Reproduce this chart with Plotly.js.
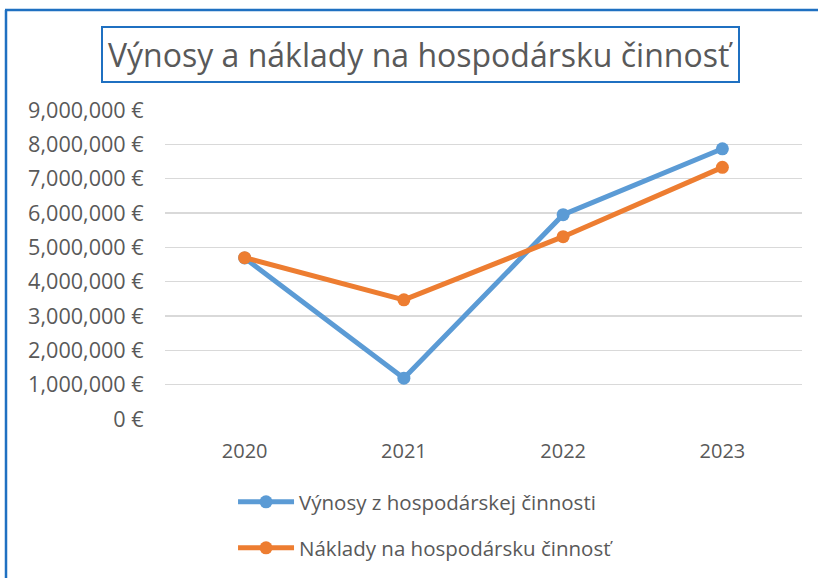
<!DOCTYPE html>
<html>
<head>
<meta charset="utf-8">
<script src="https://cdn.plot.ly/plotly-3.0.1.min.js"></script>
<style>html,body{margin:0;padding:0;background:#fff;}#chart{width:818px;height:578px;}</style>
</head>
<body>
<div id="chart"></div>
<script>
const years = ["2020", "2021", "2022", "2023"];
const vynosy = [4690000, 1190000, 5950000, 7870000];
const naklady = [4700000, 3470000, 5310000, 7330000];
const seriesNames = ["Výnosy z hospodárskej činnosti", "Náklady na hospodársku činnosť"];
const titleText = "Výnosy a náklady na hospodársku činnosť";

const FONT = "Open Sans, Noto Sans, sans-serif";
const GRAY = "#595959";
const BLUE = "#5B9BD5";
const ORANGE = "#ED7D31";
const FRAME = "#1F70C1";

const traces = [
  {x: years, y: vynosy, name: seriesNames[0], type: "scatter", mode: "lines+markers",
   line: {color: BLUE, width: 5}, marker: {color: BLUE, size: 13}, legend: "legend"},
  {x: years, y: naklady, name: seriesNames[1], type: "scatter", mode: "lines+markers",
   line: {color: ORANGE, width: 5}, marker: {color: ORANGE, size: 13}, legend: "legend2"}
];

const legendFont = {family: FONT, size: 20.5, color: GRAY};

const layout = {
  width: 818, height: 578,
  paper_bgcolor: "#fff", plot_bgcolor: "#fff",
  margin: {l: 165, r: 16, t: 110, b: 158},
  font: {family: FONT, color: GRAY, size: 20},
  showlegend: true,
  xaxis: {type: "category", range: [-0.5, 3.5], showgrid: false, zeroline: false, showline: false,
          ticks: "outside", ticklen: 14, tickcolor: "rgba(0,0,0,0)",
          tickfont: {family: FONT, size: 20, color: GRAY}, fixedrange: true},
  yaxis: {range: [0, 9000000], dtick: 1000000, tickformat: ",.0f", ticksuffix: " €",
          showgrid: true, gridcolor: "#D9D9D9", gridwidth: 1.5, zeroline: false, showline: false,
          ticks: "outside", ticklen: 16, tickcolor: "rgba(0,0,0,0)",
          tickfont: {family: FONT, size: 21.6, color: GRAY}, fixedrange: true},
  legend: {x: 0.1068, xanchor: "left", y: 0.5 - (502 - 265) / 310, yanchor: "middle",
           itemwidth: 56, font: legendFont, bgcolor: "rgba(0,0,0,0)"},
  legend2: {x: 0.1068, xanchor: "left", y: 0.5 - (548 - 265) / 310, yanchor: "middle",
            itemwidth: 56, font: legendFont, bgcolor: "rgba(0,0,0,0)"},
  annotations: [{
    text: titleText, xref: "paper", yref: "paper",
    x: (420.5 - 165) / 637, y: 1 + (110 - 54) / 310, xanchor: "center", yanchor: "middle",
    showarrow: false, font: {family: FONT, size: 32, color: GRAY},
    bordercolor: FRAME, borderwidth: 2, borderpad: 5, bgcolor: "#fff"
  }],
  shapes: [
    {type: "line", xref: "paper", yref: "paper", xsizemode: "pixel", ysizemode: "pixel",
     xanchor: 0, yanchor: 1, x0: -159, x1: -159, y0: 100, y1: -480,
     line: {color: FRAME, width: 2.5}},
    {type: "line", xref: "paper", yref: "paper", xsizemode: "pixel", ysizemode: "pixel",
     xanchor: 0, yanchor: 1, x0: -160, x1: 700, y0: 100, y1: 100,
     line: {color: FRAME, width: 2.5}}
  ]
};

Plotly.newPlot("chart", traces, layout, {displayModeBar: false, staticPlot: true});
</script>
</body>
</html>
